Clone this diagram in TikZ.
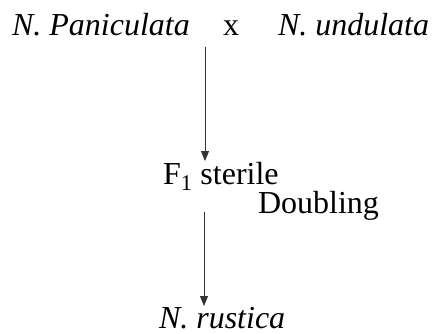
\documentclass[tikz,border=0pt]{standalone}
\usepackage{fontspec}
\setmainfont{Liberation Serif}
\usetikzlibrary{arrows.meta}
\begin{document}
\begin{tikzpicture}[x=1bp,y=-1bp,
  lbl/.style={inner sep=0pt,outer sep=0pt,font=\fontsize{32bp}{38bp}\selectfont},
  arr/.style={draw=black!80,line width=0.8bp,-{Triangle[width=8bp,length=10bp]}}]
\useasboundingbox (0,0) rectangle (432,334);
\node[lbl,anchor=base west] (p) at (12,35) {\textit{N. Paniculata}};
\node[lbl,anchor=base] (x) at (231,35) {x};
\node[lbl,anchor=base west] (u) at (278,35) {\textit{N. undulata}};
\node[lbl,anchor=base west] (f) at (163,184) {F\textsubscript{1} sterile};
\node[lbl,anchor=base west] (d) at (258,213) {Doubling};
\node[lbl,anchor=base west] (r) at (159,328) {\textit{N. rustica}};
\coordinate (a1s) at (205,47);
\coordinate (a1e) at (205,161);
\coordinate (a2s) at (204,212);
\coordinate (a2e) at (204,306);
\draw[arr] (a1s) -- (a1e);
\draw[arr] (a2s) -- (a2e);
\end{tikzpicture}
\end{document}
